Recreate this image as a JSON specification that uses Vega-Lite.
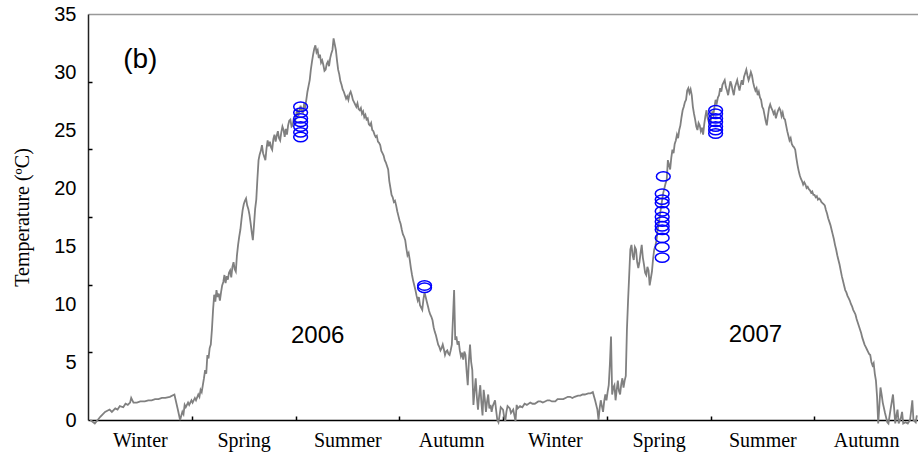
{
  "$schema": "https://vega.github.io/schema/vega-lite/v6.json",
  "width": 830,
  "height": 406,
  "autosize": {"type": "none"},
  "padding": {"left": 88, "top": 14, "right": 0, "bottom": 40},
  "background": "white",
  "config": {"view": {"stroke": null}},
  "datasets": {
    "series": [
      {"d":2,"v":0},{"d":6,"v":-0.3},{"d":11,"v":0.3},{"d":15,"v":0.7},{"d":19,"v":0.9},{"d":21,"v":0.7},{"d":24,"v":1.0},{"d":26,"v":0.9},{"d":28,"v":1.2},{"d":31,"v":1.1},{"d":33,"v":1.4},{"d":35,"v":1.3},{"d":37,"v":1.5},{"d":38,"v":1.9},{"d":40,"v":1.5},{"d":43,"v":1.5},{"d":46,"v":1.6},{"d":50,"v":1.6},{"d":53,"v":1.7},{"d":56,"v":1.7},{"d":59,"v":1.8},{"d":62,"v":1.8},{"d":65,"v":1.9},{"d":68,"v":1.9},{"d":72,"v":2.0},{"d":76,"v":2.2},{"d":79,"v":0.9},{"d":81,"v":0},{"d":83,"v":0.7},{"d":84,"v":0.5},{"d":85,"v":1.3},{"d":86,"v":1.1},{"d":88,"v":1.5},{"d":89,"v":1.3},{"d":91,"v":1.7},{"d":92,"v":1.5},{"d":94,"v":1.9},{"d":95,"v":1.7},{"d":97,"v":2.2},{"d":98,"v":2.0},{"d":99,"v":2.6},{"d":100,"v":2.4},
      {"d":101,"v":3.0},{"d":102,"v":3.6},{"d":103,"v":4.3},{"d":104,"v":4.0},{"d":105,"v":5.6},{"d":106,"v":5.3},{"d":107,"v":6.2},{"d":108,"v":6.5},{"d":109,"v":7.8},{"d":110,"v":9.5},{"d":111,"v":10.8},{"d":112,"v":10.2},{"d":113,"v":11.2},{"d":114,"v":10.6},{"d":115,"v":10.9},{"d":116,"v":10.3},{"d":117,"v":11.0},{"d":118,"v":11.6},{"d":119,"v":11.9},{"d":120,"v":12.5},{"d":121,"v":11.8},{"d":122,"v":12.4},{"d":123,"v":12.1},{"d":124,"v":12.7},{"d":125,"v":12.9},{"d":126,"v":12.3},{"d":127,"v":13.2},{"d":128,"v":13.6},{"d":129,"v":13.0},{"d":130,"v":12.8},{"d":131,"v":14.2},{"d":132,"v":15.1},{"d":133,"v":15.8},{"d":134,"v":16.4},{"d":135,"v":17.3},{"d":136,"v":18.1},{"d":137,"v":18.6},{"d":138,"v":18.9},{"d":139,"v":19.1},{"d":140,"v":18.5},{"d":141,"v":18.2},{"d":142,"v":17.7},{"d":143,"v":17.0},{"d":144,"v":16.2},{"d":145,"v":15.5},{"d":146,"v":16.8},{"d":147,"v":18.2},{"d":148,"v":19.0},{"d":149,"v":20.8},{"d":150,"v":22.4},{"d":151,"v":22.9},{"d":152,"v":23.2},{"d":153,"v":23.7},{"d":154,"v":23.0},{"d":155,"v":22.7},{"d":156,"v":22.4},{"d":157,"v":23.4},{"d":158,"v":24.1},{"d":159,"v":23.6},{"d":160,"v":24.0},{"d":161,"v":23.5},{"d":162,"v":23.3},{"d":163,"v":24.2},{"d":164,"v":24.6},{"d":165,"v":24.0},{"d":166,"v":24.5},{"d":167,"v":24.9},{"d":168,"v":24.3},{"d":169,"v":24.1},{"d":170,"v":24.8},{"d":171,"v":25.3},{"d":172,"v":25.0},{"d":173,"v":24.4},{"d":174,"v":25.1},{"d":175,"v":24.6},{"d":176,"v":25.4},{"d":177,"v":25.8},{"d":178,"v":25.9},{"d":179,"v":25.3},{"d":180,"v":25.4},{"d":181,"v":26.0},{"d":182,"v":25.6},{"d":183,"v":26.3},{"d":184,"v":26.8},{"d":185,"v":26.2},{"d":186,"v":26.7},{"d":187,"v":27.1},{"d":188,"v":26.6},{"d":189,"v":26.5},{"d":190,"v":27.2},{"d":191,"v":27.0},{"d":192,"v":27.6},{"d":193,"v":28.3},{"d":194,"v":28.8},{"d":195,"v":29.3},{"d":196,"v":30.2},{"d":197,"v":30.9},{"d":198,"v":31.5},{"d":199,"v":32.0},{"d":200,"v":32.3},{"d":201,"v":31.7},{"d":202,"v":31.9},{"d":203,"v":31.2},{"d":204,"v":31.5},{"d":205,"v":30.8},{"d":206,"v":31.0},{"d":207,"v":30.6},{"d":208,"v":30.1},{"d":209,"v":30.2},{"d":210,"v":30.7},{"d":211,"v":30.9},{"d":212,"v":30.5},{"d":213,"v":31.2},{"d":214,"v":31.6},{"d":215,"v":31.9},{"d":216,"v":32.9},{"d":217,"v":32.4},{"d":218,"v":31.9},{"d":219,"v":31.0},{"d":220,"v":30.2},{"d":221,"v":29.8},{"d":222,"v":29.2},{"d":223,"v":28.9},{"d":224,"v":28.5},{"d":225,"v":28.3},{"d":226,"v":28.0},{"d":227,"v":27.7},{"d":228,"v":27.9},{"d":229,"v":27.6},{"d":230,"v":28.1},{"d":231,"v":28.3},{"d":232,"v":28.0},{"d":233,"v":27.6},{"d":234,"v":27.4},{"d":235,"v":27.2},{"d":236,"v":27.0},{"d":237,"v":27.3},{"d":238,"v":26.8},{"d":239,"v":26.7},{"d":240,"v":26.9},{"d":241,"v":26.4},{"d":242,"v":26.6},{"d":243,"v":26.1},{"d":244,"v":26.3},{"d":245,"v":25.9},{"d":246,"v":26.0},{"d":247,"v":25.5},{"d":248,"v":25.4},{"d":249,"v":25.6},{"d":250,"v":25.0},{"d":251,"v":24.9},{"d":252,"v":24.6},{"d":253,"v":24.4},{"d":254,"v":24.5},{"d":255,"v":24.0},{"d":256,"v":23.9},{"d":257,"v":23.7},{"d":258,"v":23.2},{"d":259,"v":23.0},{"d":260,"v":22.8},{"d":261,"v":22.4},{"d":262,"v":22.2},{"d":263,"v":21.9},{"d":264,"v":21.6},{"d":265,"v":20.6},{"d":266,"v":20.0},{"d":267,"v":19.4},{"d":268,"v":19.2},{"d":269,"v":18.8},{"d":270,"v":18.9},{"d":271,"v":18.5},{"d":272,"v":18.0},{"d":273,"v":17.6},{"d":274,"v":17.2},{"d":275,"v":16.9},{"d":276,"v":16.4},{"d":277,"v":16.0},{"d":278,"v":15.8},{"d":279,"v":15.5},{"d":280,"v":14.8},{"d":281,"v":14.2},{"d":282,"v":14.4},{"d":283,"v":13.8},{"d":284,"v":13.1},{"d":285,"v":12.5},{"d":286,"v":12.0},{"d":287,"v":11.6},{"d":288,"v":11.2},{"d":289,"v":10.7},{"d":290,"v":10.3},{"d":291,"v":10.6},{"d":292,"v":9.9},{"d":293,"v":9.7},{"d":294,"v":9.5},{"d":295,"v":10.4},{"d":296,"v":11.0},{"d":297,"v":10.6},{"d":298,"v":10.2},{"d":299,"v":9.8},{"d":300,"v":9.4},{"d":301,"v":9.1},{"d":302,"v":8.9},{"d":303,"v":8.6},{"d":304,"v":8.0},{"d":305,"v":7.6},{"d":306,"v":7.3},{"d":307,"v":6.9},{"d":308,"v":6.5},{"d":309,"v":6.3},{"d":310,"v":6.0},{"d":311,"v":6.2},{"d":312,"v":6.5},{"d":313,"v":6.1},{"d":314,"v":5.6},{"d":315,"v":5.9},{"d":316,"v":6.0},{"d":317,"v":5.7},{"d":318,"v":5.6},{"d":319,"v":6.0},{"d":320,"v":6.5},{"d":321,"v":8.8},{"d":322,"v":11.2},{"d":323,"v":6.9},{"d":324,"v":7.2},{"d":325,"v":6.5},{"d":326,"v":6.8},{"d":327,"v":6.0},{"d":328,"v":5.5},{"d":329,"v":5.8},{"d":330,"v":5.2},{"d":331,"v":5.9},{"d":332,"v":5.6},{"d":333,"v":4.2},{"d":334,"v":3.0},{"d":335,"v":5.1},{"d":336,"v":6.5},{"d":337,"v":5.0},{"d":338,"v":4.3},{"d":339,"v":1.3},{"d":340,"v":2.5},{"d":341,"v":3.6},{"d":342,"v":2.0},{"d":343,"v":0.9},{"d":344,"v":2.1},{"d":345,"v":3.0},{"d":346,"v":1.5},{"d":347,"v":0.4},{"d":348,"v":2.6},{"d":349,"v":1.8},{"d":350,"v":0.7},{"d":351,"v":1.6},{"d":352,"v":2.2},{"d":353,"v":1.0},{"d":354,"v":1.3},{"d":355,"v":0.7},{"d":356,"v":1.2},{"d":358,"v":1.7},{"d":359,"v":0.8},{"d":360,"v":0},{"d":361,"v":-0.2},{"d":362,"v":0.4},{"d":363,"v":1.1},{"d":365,"v":0.9},{"d":366,"v":0.3},{"d":367,"v":-0.1},{"d":368,"v":0.7},{"d":369,"v":1.2},{"d":371,"v":1.0},{"d":372,"v":0.6},{"d":374,"v":0.9},{"d":375,"v":0.4},{"d":376,"v":-0.1},{"d":377,"v":1.3},{"d":378,"v":1.0},{"d":380,"v":1.2},{"d":382,"v":1.1},{"d":384,"v":1.4},{"d":386,"v":1.3},{"d":389,"v":1.5},{"d":391,"v":1.4},{"d":393,"v":1.4},{"d":396,"v":1.6},{"d":398,"v":1.6},{"d":400,"v":1.5},{"d":402,"v":1.6},{"d":404,"v":1.7},{"d":406,"v":1.7},{"d":408,"v":1.6},{"d":411,"v":1.6},{"d":413,"v":1.8},{"d":415,"v":1.8},{"d":418,"v":1.8},{"d":420,"v":1.9},{"d":422,"v":2.0},{"d":424,"v":2.0},{"d":426,"v":1.9},{"d":428,"v":2.0},{"d":431,"v":2.1},{"d":433,"v":2.1},{"d":435,"v":2.2},{"d":437,"v":2.2},{"d":440,"v":2.3},{"d":442,"v":2.3},{"d":444,"v":2.4},{"d":446,"v":1.7},{"d":448,"v":0.9},{"d":449,"v":0},{"d":450,"v":1.0},{"d":451,"v":1.7},{"d":452,"v":1.2},{"d":453,"v":0.7},{"d":454,"v":1.6},{"d":455,"v":2.2},{"d":456,"v":1.7},{"d":457,"v":2.4},{"d":458,"v":3.0},{"d":459,"v":4.8},{"d":460,"v":7.2},{"d":461,"v":2.2},{"d":462,"v":2.8},{"d":463,"v":3.0},{"d":464,"v":1.7},{"d":465,"v":2.6},{"d":466,"v":3.4},{"d":467,"v":2.5},{"d":468,"v":2.2},{"d":469,"v":3.1},{"d":470,"v":3.6},{"d":471,"v":2.8},{"d":472,"v":3.4},{"d":473,"v":3.8},
      {"d":474,"v":7.8},{"d":475,"v":10.3},{"d":476,"v":12.5},{"d":477,"v":14.7},{"d":478,"v":15.1},{"d":479,"v":14.2},{"d":480,"v":13.8},{"d":481,"v":14.9},{"d":482,"v":14.7},{"d":483,"v":13.6},{"d":484,"v":13.1},{"d":485,"v":13.6},{"d":486,"v":14.4},{"d":487,"v":15.1},{"d":488,"v":14.0},{"d":489,"v":13.4},{"d":490,"v":12.7},{"d":491,"v":12.5},{"d":492,"v":13.2},{"d":493,"v":12.9},{"d":494,"v":11.6},{"d":495,"v":12.2},{"d":496,"v":12.8},{"d":497,"v":13.9},{"d":498,"v":14.7},{"d":499,"v":15.0},{"d":500,"v":15.5},{"d":501,"v":16.4},{"d":502,"v":16.9},{"d":503,"v":17.7},{"d":504,"v":18.3},{"d":505,"v":19.0},{"d":506,"v":19.6},{"d":507,"v":20.0},{"d":508,"v":20.4},{"d":509,"v":20.7},{"d":510,"v":22.4},{"d":511,"v":22.0},{"d":512,"v":21.6},{"d":513,"v":22.6},{"d":514,"v":23.3},{"d":515,"v":23.0},{"d":516,"v":23.8},{"d":517,"v":24.1},{"d":518,"v":24.6},{"d":519,"v":24.3},{"d":520,"v":25.0},{"d":521,"v":25.4},{"d":522,"v":26.1},{"d":523,"v":26.7},{"d":524,"v":27.0},{"d":525,"v":27.4},{"d":526,"v":27.6},{"d":527,"v":28.4},{"d":528,"v":28.6},{"d":529,"v":28.2},{"d":530,"v":28.5},{"d":531,"v":28.0},{"d":532,"v":27.0},{"d":533,"v":26.4},{"d":534,"v":25.9},{"d":535,"v":25.3},{"d":536,"v":25.0},{"d":537,"v":25.6},{"d":538,"v":25.4},{"d":539,"v":24.9},{"d":540,"v":25.2},{"d":541,"v":24.6},{"d":542,"v":25.5},{"d":543,"v":26.2},{"d":544,"v":26.7},{"d":545,"v":26.0},{"d":546,"v":25.7},{"d":547,"v":25.4},{"d":548,"v":26.0},{"d":549,"v":26.5},{"d":550,"v":26.3},{"d":551,"v":27.0},{"d":552,"v":27.6},{"d":553,"v":27.3},{"d":554,"v":27.8},{"d":555,"v":28.0},{"d":556,"v":28.6},{"d":557,"v":28.3},{"d":558,"v":28.9},{"d":559,"v":29.1},{"d":560,"v":29.3},{"d":561,"v":28.7},{"d":562,"v":28.4},{"d":563,"v":28.0},{"d":564,"v":28.6},{"d":565,"v":29.2},{"d":566,"v":28.9},{"d":567,"v":28.4},{"d":568,"v":28.0},{"d":569,"v":28.7},{"d":570,"v":29.0},{"d":571,"v":29.3},{"d":572,"v":28.8},{"d":573,"v":28.4},{"d":574,"v":28.9},{"d":575,"v":29.3},{"d":576,"v":28.9},{"d":577,"v":29.6},{"d":578,"v":29.9},{"d":579,"v":30.2},{"d":580,"v":29.7},{"d":581,"v":29.3},{"d":582,"v":29.6},{"d":583,"v":30.0},{"d":584,"v":29.7},{"d":585,"v":29.1},{"d":586,"v":28.7},{"d":587,"v":28.4},{"d":588,"v":28.6},{"d":589,"v":28.0},{"d":590,"v":28.3},{"d":591,"v":27.8},{"d":592,"v":27.6},{"d":593,"v":27.0},{"d":594,"v":26.8},{"d":595,"v":26.3},{"d":596,"v":25.8},{"d":597,"v":25.4},{"d":598,"v":26.2},{"d":599,"v":26.9},{"d":600,"v":27.2},{"d":601,"v":26.9},{"d":602,"v":26.7},{"d":603,"v":26.4},{"d":604,"v":26.6},{"d":605,"v":26.0},{"d":606,"v":26.4},{"d":607,"v":26.7},{"d":608,"v":26.9},{"d":609,"v":26.7},{"d":610,"v":26.2},{"d":611,"v":26.5},{"d":612,"v":26.0},{"d":613,"v":25.9},{"d":614,"v":25.4},{"d":615,"v":24.9},{"d":616,"v":24.5},{"d":617,"v":24.1},{"d":618,"v":24.3},{"d":619,"v":23.8},{"d":620,"v":23.6},{"d":621,"v":23.5},{"d":622,"v":23.3},{"d":623,"v":22.6},{"d":624,"v":22.0},{"d":625,"v":21.5},{"d":626,"v":21.1},{"d":627,"v":20.8},{"d":628,"v":20.6},{"d":629,"v":20.3},{"d":630,"v":20.5},{"d":631,"v":20.3},{"d":632,"v":20.0},{"d":633,"v":20.1},{"d":634,"v":19.9},{"d":635,"v":19.8},{"d":636,"v":19.6},{"d":637,"v":19.7},{"d":638,"v":19.4},{"d":639,"v":19.4},{"d":640,"v":19.2},{"d":641,"v":19.3},{"d":642,"v":19.0},{"d":643,"v":19.1},{"d":644,"v":19.0},{"d":645,"v":18.8},{"d":646,"v":18.7},{"d":647,"v":18.6},{"d":648,"v":18.5},{"d":649,"v":18.1},{"d":650,"v":17.8},{"d":651,"v":17.4},{"d":652,"v":17.1},{"d":653,"v":16.8},{"d":654,"v":16.4},{"d":655,"v":16.0},{"d":656,"v":15.6},{"d":657,"v":15.1},{"d":658,"v":14.7},{"d":659,"v":14.2},{"d":660,"v":13.8},{"d":661,"v":13.4},{"d":662,"v":12.9},{"d":663,"v":12.4},{"d":664,"v":12.0},{"d":665,"v":11.6},{"d":666,"v":11.2},{"d":667,"v":11.0},{"d":668,"v":10.7},{"d":669,"v":10.5},{"d":670,"v":10.3},{"d":671,"v":10.0},{"d":672,"v":9.8},{"d":673,"v":9.5},{"d":674,"v":9.3},{"d":675,"v":9.1},{"d":676,"v":8.7},{"d":677,"v":8.4},{"d":678,"v":8.1},{"d":679,"v":7.8},{"d":680,"v":7.5},{"d":681,"v":7.1},{"d":682,"v":6.8},{"d":683,"v":6.5},{"d":684,"v":6.3},{"d":685,"v":6.1},{"d":686,"v":5.9},{"d":687,"v":5.7},{"d":688,"v":5.6},{"d":689,"v":5.0},{"d":690,"v":4.7},{"d":691,"v":4.9},{"d":692,"v":4.0},{"d":693,"v":3.4},{"d":694,"v":2.0},{"d":695,"v":-0.3},{"d":696,"v":1.2},{"d":697,"v":2.8},{"d":698,"v":2.2},{"d":699,"v":1.5},{"d":701,"v":0.6},{"d":703,"v":-0.2},{"d":704,"v":-0.3},{"d":706,"v":1.0},{"d":708,"v":2.2},{"d":709,"v":1.0},{"d":710,"v":-0.3},{"d":711,"v":0.4},{"d":712,"v":0.9},{"d":713,"v":-0.3},{"d":715,"v":0.2},{"d":716,"v":0.7},{"d":717,"v":-0.3},{"d":719,"v":-0.2},{"d":721,"v":-0.3},{"d":723,"v":0},{"d":724,"v":0.8},{"d":725,"v":1.7},{"d":726,"v":0},{"d":728,"v":-0.2},{"d":729,"v":0.4}
    ],
    "obs": [
      {"d":187,"v":27.0},{"d":187,"v":26.5},{"d":187,"v":26.0},{"d":187,"v":25.7},{"d":187,"v":25.3},{"d":187,"v":24.8},{"d":187,"v":24.4},
      {"d":296,"v":11.6},{"d":296,"v":11.4},
      {"d":506,"v":21.0},{"d":505,"v":19.5},{"d":505,"v":19.0},{"d":505,"v":18.7},{"d":505,"v":18.0},{"d":505,"v":17.5},{"d":505,"v":17.1},{"d":505,"v":16.7},{"d":505,"v":16.4},{"d":505,"v":15.7},{"d":505,"v":14.9},{"d":505,"v":14.0},
      {"d":552,"v":26.7},{"d":552,"v":26.4},{"d":552,"v":26.0},{"d":552,"v":25.7},{"d":552,"v":25.3},{"d":552,"v":25.0},{"d":552,"v":24.7}
    ],
    "notes": [
      {"d":46,"v":31.0,"label":"(b)","kind":"panel"},
      {"d":202,"v":7.2,"label":"2006","kind":"year"},
      {"d":587,"v":7.3,"label":"2007","kind":"year"}
    ]
  },
  "resolve": {"axis": {"x": "independent", "y": "independent"}},
  "layer": [
    {
      "data": {"name": "series"},
      "mark": {"type": "line", "color": "#808080", "strokeWidth": 1.8, "clip": false},
      "encoding": {
        "x": {"field": "d", "type": "quantitative", "scale": {"domain": [0, 730], "nice": false, "zero": false},
          "axis": {"orient": "bottom", "values": [45.6, 136.9, 228.1, 319.4, 410.6, 501.9, 593.1, 684.4],
            "labelExpr": "['Winter','Spring','Summer','Autumn'][floor(datum.value/91.25) % 4]",
            "ticks": false, "grid": false, "domain": true, "domainColor": "#000000", "domainWidth": 1.5,
            "labelFont": "Liberation Serif", "labelFontSize": 20, "labelColor": "#000000", "labelPadding": 10, "title": null}},
        "y": {"field": "v", "type": "quantitative", "scale": {"domain": [0, 35], "nice": false, "zero": false},
          "axis": {"orient": "left", "values": [0, 5, 10, 15, 20, 25, 30, 35], "ticks": false, "grid": false,
            "domain": true, "domainColor": "#222222", "domainWidth": 1.5,
            "labelFont": "Liberation Sans", "labelFontSize": 20, "labelColor": "#000000", "labelPadding": 12,
            "title": "Temperature (ºC)", "titleFont": "Liberation Serif", "titleFontWeight": "normal", "titleFontSize": 20,
            "titleColor": "#000000", "titleX": -66, "titleBaseline": "middle"}}
      }
    },
    {
      "data": {"name": "obs"},
      "mark": {"type": "point", "shape": "M -1 0 A 1 0.68 0 1 0 1 0 A 1 0.68 0 1 0 -1 0 Z", "filled": false, "color": "#0000ff", "strokeWidth": 1.5, "size": 190, "opacity": 1},
      "encoding": {
        "x": {"field": "d", "type": "quantitative", "scale": {"domain": [0, 730], "nice": false, "zero": false},
          "axis": {"orient": "bottom", "values": [91.25, 182.5, 273.75, 365, 456.25, 547.5, 638.75], "labels": false, "grid": false, "domain": false,
            "ticks": true, "tickSize": -4, "tickColor": "#000000", "tickWidth": 1.5, "title": null}},
        "y": {"field": "v", "type": "quantitative", "scale": {"domain": [0, 35], "nice": false, "zero": false},
          "axis": {"orient": "left", "values": [5.8333, 11.6667, 17.5, 23.3333, 29.1667], "labels": false, "grid": false, "domain": false,
            "ticks": true, "tickSize": -4, "tickColor": "#000000", "tickWidth": 1.5, "title": null}}
      }
    },
    {
      "data": {"name": "notes"},
      "mark": {"type": "text", "font": "Liberation Sans", "color": "#000000", "align": "center", "baseline": "middle"},
      "encoding": {
        "x": {"field": "d", "type": "quantitative", "scale": {"domain": [0, 730], "nice": false, "zero": false},
          "axis": {"orient": "top", "labels": false, "ticks": false, "grid": false, "domain": true, "domainColor": "#999999", "domainWidth": 1.5, "title": null}},
        "y": {"field": "v", "type": "quantitative", "scale": {"domain": [0, 35], "nice": false, "zero": false}, "axis": null},
        "text": {"field": "label"},
        "size": {"field": "kind", "type": "nominal", "scale": {"domain": ["panel", "year"], "range": [28, 24]}, "legend": null}
      }
    }
  ]
}
